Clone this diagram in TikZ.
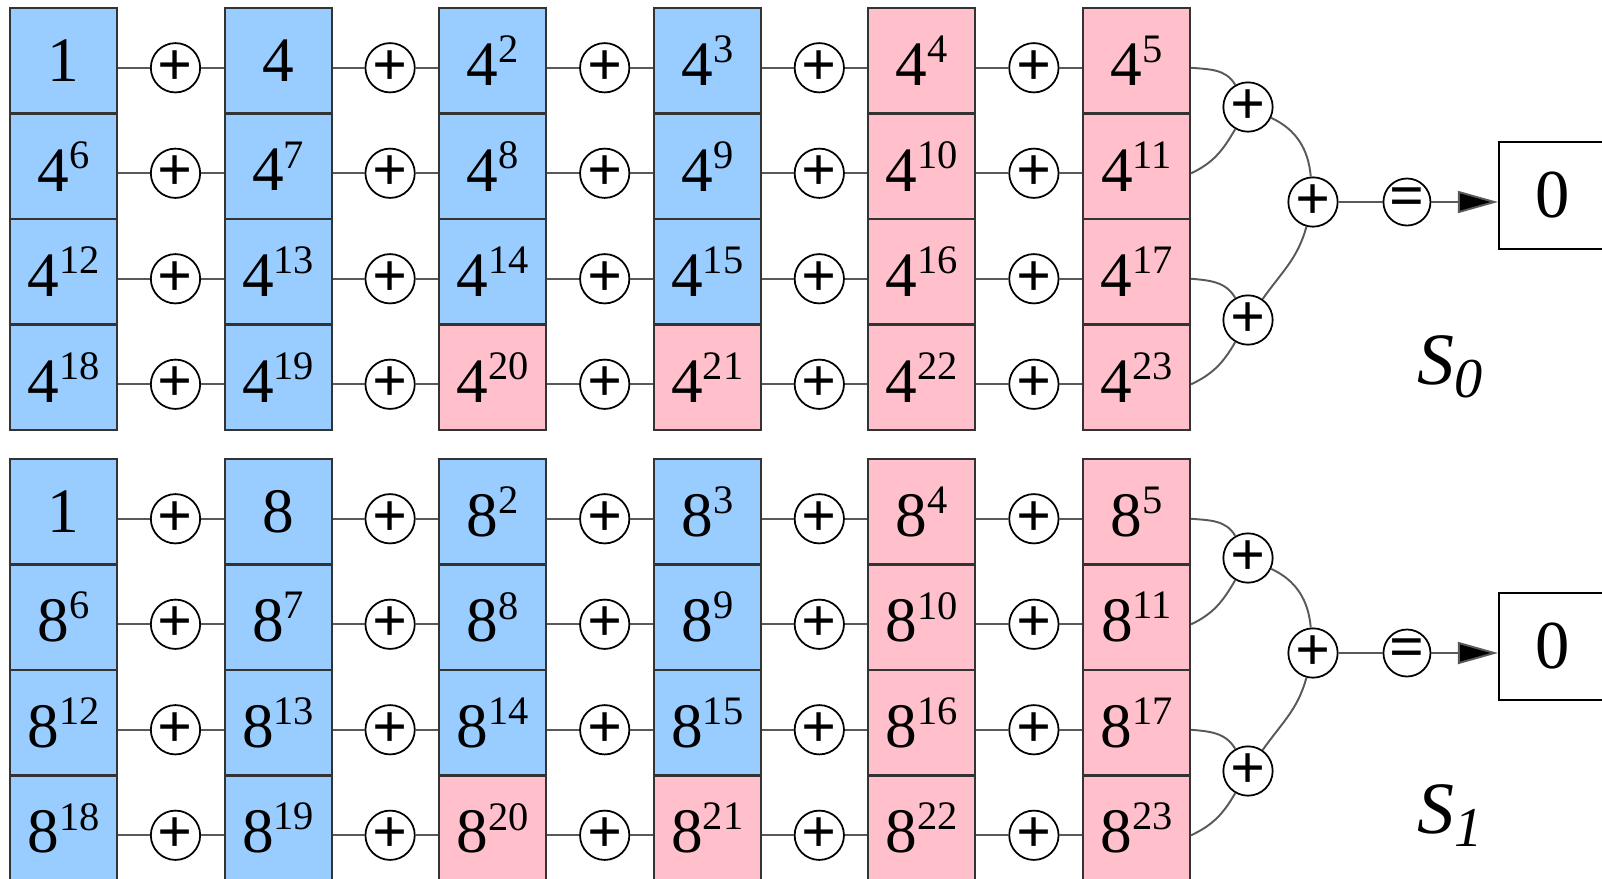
\documentclass[tikz,border=0pt]{standalone}
\usepackage{fontspec}
\setmainfont{Liberation Serif}
\usetikzlibrary{positioning, arrows.meta}

\definecolor{cellblue}{RGB}{153,204,255}
\definecolor{cellpink}{RGB}{255,192,203}

\newcommand{\pw}[2]{#1\raisebox{0.36em}{\fontsize{11.5}{12}\selectfont #2}}

\tikzset{
  cell/.style={draw=black!80, line width=0.6pt, minimum width=1.07cm, minimum height=1.055cm,
    inner sep=0pt, font=\fontsize{18}{20}\selectfont},
  op/.style={draw, circle, line width=0.5pt, minimum size=0.47cm, inner sep=0pt,
    fill=white, font=\fontsize{17.5}{19}\selectfont\bfseries},
  zero/.style={draw, line width=0.6pt, minimum width=1.07cm, minimum height=1.07cm,
    inner sep=0pt, font=\fontsize{19.5}{21}\selectfont},
  sumname/.style={font=\fontsize{21}{23}\selectfont\itshape},
  wire/.style={draw=black!65, line width=0.55pt},
}

\begin{document}
\begin{tikzpicture}[x=0.01cm, y=0.01cm]
\useasboundingbox (0,0) rectangle (1602,-878);

\foreach \blk/\base in {0/4, 1/8} {
  % the 4 x 6 table of powers
  \foreach \row in {0,...,3} {
    \foreach \col in {0,...,5} {
      \pgfmathtruncatemacro\e{6*\row+\col}
      \ifnum\col>3 \def\colr{cellpink}\else
        \ifnum\e>19 \def\colr{cellpink}\else\def\colr{cellblue}\fi\fi
      \ifcase\e\relax \def\lbl{1}\or \def\lbl{\base}\else \def\lbl{\pw{\base}{\e}}\fi
      \node[cell, fill=\colr] (c-\blk-\row-\col)
        at ({63.5+214.6*\col}, {-60.75-105.5*\row-451*\blk}) {\lbl};
    }
    \foreach \col [evaluate=\col as \nc using int(\col+1)] in {0,...,4} {
      \node[op] (p-\blk-\row-\col) at ({175.5+214.6*\col}, {-67.75-105.5*\row-451*\blk}) {+};
      \draw[wire] (c-\blk-\row-\col.east |- p-\blk-\row-\col) -- (p-\blk-\row-\col)
        -- (c-\blk-\row-\nc.west |- p-\blk-\row-\col);
    }
  }

  % summing tree
  \node[op] (s-\blk-a) at (1248, {-107-451*\blk}) {+};
  \node[op] (s-\blk-b) at (1248, {-320-451*\blk}) {+};
  \node[op] (s-\blk) at (1313, {-202-451*\blk}) {+};
  \node[op, right=0.44cm of s-\blk] (q-\blk) {=};
  \node[zero, right=0.665cm of q-\blk, yshift=0.065cm] (z-\blk) {0};
  \node[sumname] (S-\blk) at (1450, {-367-449*\blk})
    {S\raisebox{-3.7pt}{\fontsize{16}{16}\selectfont\blk}};

  \draw[wire] (c-\blk-0-5.east |- p-\blk-0-4) to[out=-5, in=120] (s-\blk-a);
  \draw[wire] (c-\blk-1-5.east |- p-\blk-1-4) to[out=25, in=-120] (s-\blk-a);
  \draw[wire] (c-\blk-2-5.east |- p-\blk-2-4) to[out=-5, in=120] (s-\blk-b);
  \draw[wire] (c-\blk-3-5.east |- p-\blk-3-4) to[out=25, in=-120] (s-\blk-b);
  \draw[wire] (s-\blk-a) to[out=-25, in=95] (s-\blk);
  \draw[wire] (s-\blk-b) to[out=55, in=-105] (s-\blk);
  \draw[wire] (s-\blk) -- (q-\blk);
  \draw[wire, -{Triangle[length=0.4cm, width=0.22cm, fill=black]}] (q-\blk) -- (q-\blk -| z-\blk.west);
}

\end{tikzpicture}
\end{document}
